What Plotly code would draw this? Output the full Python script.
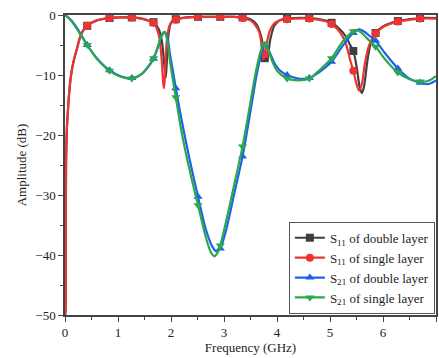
import plotly.graph_objects as go

# Marker sample positions (GHz)
marker_x = [0.42, 0.84, 1.26, 1.67, 2.09, 2.51, 2.93, 3.35, 3.77, 4.19, 4.61, 5.03, 5.44, 5.86, 6.28, 6.70]

# S11 of single layer (red)
s11_single_x = [0.0, 0.005, 0.015, 0.02, 0.035, 0.056, 0.08, 0.11, 0.16, 0.22, 0.31, 0.42, 0.6, 0.84, 1.05, 1.26,
                1.45, 1.6, 1.67, 1.73, 1.78, 1.82, 1.85, 1.865, 1.88, 1.9, 1.93, 1.97, 2.02, 2.09, 2.3, 2.51, 2.93,
                3.2, 3.35, 3.5, 3.6, 3.67, 3.72, 3.745, 3.77, 3.81, 3.87, 3.95, 4.05, 4.19, 4.61, 4.9, 5.03, 5.2, 5.3,
                5.38, 5.44, 5.5, 5.55, 5.6, 5.66, 5.74, 5.86, 6.0, 6.28, 6.5, 6.70, 7.0]
s11_single_y = [-50, -50, -35, -25, -19, -15.8, -12.8, -10.3, -7.8, -5.8, -3.1, -1.8, -0.9, -0.5, -0.4, -0.4,
                -0.6, -1.0, -1.3, -2.2, -3.8, -7.0, -11.0, -12.2, -11.0, -7.0, -3.5, -1.8, -1.1, -0.8, -0.4, -0.3, -0.3,
                -0.3, -0.5, -0.9, -1.8, -3.0, -6.0, -7.4, -6.5, -4.5, -2.5, -1.4, -0.9, -0.7, -0.6, -1.0, -1.5, -3.0, -4.8,
                -7.5, -9.3, -11.5, -12.6, -11.5, -8.0, -5.0, -3.1, -2.0, -1.1, -0.8, -0.6, -0.6]

# S11 of double layer (black)
s11_double_x = [0.0, 0.005, 0.015, 0.02, 0.035, 0.056, 0.08, 0.11, 0.16, 0.22, 0.31, 0.42, 0.6, 0.84, 1.05, 1.26,
                1.45, 1.6, 1.67, 1.73, 1.78, 1.83, 1.87, 1.9, 1.92, 1.95, 1.99, 2.04, 2.09, 2.3, 2.51, 2.93,
                3.2, 3.35, 3.5, 3.6, 3.7, 3.75, 3.77, 3.79, 3.83, 3.88, 3.95, 4.05, 4.19, 4.61, 4.9, 5.03, 5.2, 5.3,
                5.38, 5.44, 5.5, 5.56, 5.6, 5.64, 5.7, 5.76, 5.86, 6.0, 6.28, 6.5, 6.70, 7.0]
s11_double_y = [-50, -50, -35, -25, -19, -15.8, -12.8, -10.3, -7.8, -5.8, -3.1, -1.8, -0.9, -0.5, -0.4, -0.4,
                -0.6, -1.0, -1.2, -1.8, -2.6, -4.5, -8.0, -10.5, -8.0, -3.5, -1.5, -0.9, -0.7, -0.4, -0.3, -0.3,
                -0.3, -0.4, -0.7, -1.4, -3.5, -6.2, -7.2, -7.6, -6.5, -3.8, -1.8, -0.9, -0.6, -0.5, -0.9, -1.3, -2.5, -3.6,
                -5.0, -6.0, -8.5, -12.0, -13.0, -12.0, -8.0, -5.0, -3.0, -1.9, -1.0, -0.7, -0.5, -0.5]

# S21 of double layer (blue)
s21_double_x = [0.0, 0.1, 0.2, 0.3, 0.42, 0.6, 0.84, 1.05, 1.26, 1.45, 1.6, 1.67, 1.75, 1.82, 1.88, 1.93, 1.98, 2.04,
                2.09, 2.2, 2.35, 2.51, 2.65, 2.78, 2.86, 2.93, 3.05, 3.2, 3.35, 3.5, 3.62, 3.72, 3.77, 3.85, 3.95,
                4.05, 4.19, 4.4, 4.61, 4.8, 5.03, 5.25, 5.44, 5.55, 5.65, 5.75, 5.86, 6.05, 6.28, 6.5, 6.70, 6.85, 7.0]
s21_double_y = [0.0, -0.7, -1.8, -3.2, -5.0, -7.2, -9.2, -10.2, -10.5, -9.8, -8.3, -7.3, -5.5, -3.6, -2.8, -3.6, -6.5, -9.5,
                -12.2, -17.5, -24.0, -30.3, -35.5, -38.6, -39.4, -38.9, -35.5, -29.5, -23.6, -16.0, -9.8, -6.0, -5.0, -6.0, -8.0,
                -9.2, -10.0, -10.6, -10.5, -9.5, -7.8, -5.0, -3.0, -2.4, -2.8, -3.5, -4.3, -6.5, -8.9, -10.6, -11.3, -11.5, -10.9]

# S21 of single layer (green)
s21_single_x = [0.0, 0.1, 0.2, 0.3, 0.42, 0.6, 0.84, 1.05, 1.26, 1.45, 1.6, 1.67, 1.75, 1.82, 1.87, 1.92, 1.97, 2.03,
                2.09, 2.2, 2.35, 2.51, 2.65, 2.75, 2.82, 2.88, 2.93, 3.05, 3.2, 3.35, 3.5, 3.6, 3.7, 3.77, 3.82, 3.9,
                4.0, 4.19, 4.4, 4.61, 4.8, 5.03, 5.25, 5.44, 5.5, 5.6, 5.7, 5.86, 6.05, 6.28, 6.5, 6.70, 6.85, 7.0]
s21_single_y = [0.0, -0.8, -2.0, -3.4, -5.0, -7.3, -9.3, -10.3, -10.6, -9.8, -8.2, -7.2, -5.3, -3.4, -2.8, -3.8, -7.0, -10.5,
                -13.7, -19.5, -25.8, -31.7, -36.8, -39.5, -40.2, -39.6, -38.4, -34.0, -28.0, -21.9, -14.5, -9.5, -5.8, -4.8, -5.5, -7.5,
                -9.3, -10.6, -10.9, -10.6, -9.2, -7.2, -4.3, -2.7, -2.5, -3.0, -3.9, -5.3, -7.5, -9.6, -10.7, -11.1, -11.0, -10.2]

x_ticks = [0, 1, 2, 3, 4, 5, 6, 7]
y_ticks = [-50, -40, -30, -20, -10, 0]

series = [
    ("S<sub>11</sub> of double layer", s11_double_x, s11_double_y, "#3f3f3f", "square"),
    ("S<sub>11</sub> of single layer", s11_single_x, s11_single_y, "#ee3333", "circle"),
    ("S<sub>21</sub> of double layer", s21_double_x, s21_double_y, "#1f63e6", "triangle-up"),
    ("S<sub>21</sub> of single layer", s21_single_x, s21_single_y, "#2ca84c", "triangle-down"),
]

fig = go.Figure()
for name, xs, ys, color, sym in series:
    fig.add_trace(go.Scatter(x=xs, y=ys, mode="lines", line=dict(color=color, width=2.2, shape="spline", smoothing=0.8),
                             showlegend=False, hoverinfo="skip"))
    mx = [x for x in xs if x in marker_x]
    my = [y for x, y in zip(xs, ys) if x in marker_x]
    fig.add_trace(go.Scatter(x=mx, y=my, mode="markers", marker=dict(color=color, symbol=sym, size=8),
                             showlegend=False))
    fig.add_trace(go.Scatter(x=[None], y=[None], mode="lines+markers", name=name,
                             line=dict(color=color, width=2.2), marker=dict(color=color, symbol=sym, size=8)))

font = "Liberation Serif, Times New Roman, serif"
fig.update_layout(
    width=439, height=358,
    margin=dict(l=65, r=1, t=15, b=43),
    paper_bgcolor="white", plot_bgcolor="white",
    font=dict(family=font, size=13, color="#222"),
    legend=dict(x=0.997, y=0.004, xanchor="right", yanchor="bottom", bgcolor="white",
                bordercolor="#555", borderwidth=1, font=dict(size=13, family=font), itemwidth=30,
                tracegroupgap=0),
    xaxis=dict(range=[0, 7], tickvals=x_ticks, showgrid=False, zeroline=False, showline=True, linecolor="#444",
               linewidth=1.5, mirror=True, ticks="outside", ticklen=5, tickwidth=1.2, tickcolor="#444",
               minor=dict(dtick=0.5, ticks="outside", ticklen=3, tickcolor="#444", tickwidth=1),
               title=dict(text="Frequency (GHz)", standoff=4, font=dict(size=13)), tickfont=dict(size=13)),
    yaxis=dict(range=[-50, 0], tickvals=y_ticks, showgrid=False, zeroline=False, showline=True, linecolor="#444",
               linewidth=1.5, mirror=True, ticks="outside", ticklen=5, tickwidth=1.2, tickcolor="#444",
               minor=dict(dtick=5, ticks="outside", ticklen=3, tickcolor="#444", tickwidth=1),
               title=dict(text="Amplitude (dB)", standoff=6, font=dict(size=13)), tickfont=dict(size=13)),
)

fig.write_html("out.html")
